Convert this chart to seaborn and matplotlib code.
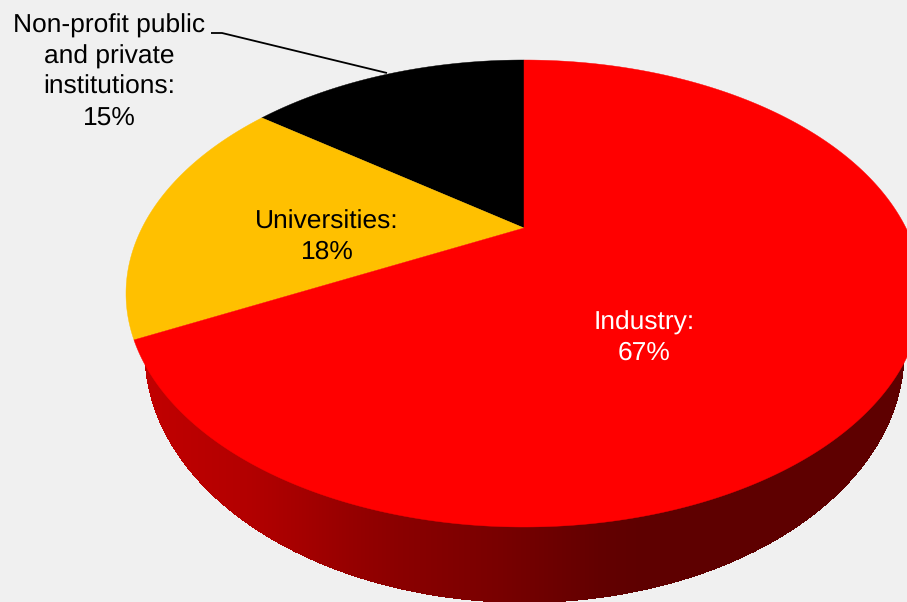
import numpy as np
import matplotlib
matplotlib.use("Agg")
import matplotlib.pyplot as plt
import seaborn as sns

# data
labels = ["Non-profit public\nand private\ninstitutions:", "Universities:", "Industry:"]
shown_pct = [15, 18, 67]
shares = [14.8, 17.7, 67.5]  # slice sizes as measured on the picture
colors = ["#000000", "#FFC000", "#FF0000"]
text_colors = ["black", "black", "white"]
text_pos = [(109, 72), (327, 237), (644, 338)]

# pie geometry in pixels (top face is a circle seen in perspective)
CX, CY, RX, RY = 524, 293.5, 398, 233.5
APEX_Y = 228
BOT_CY, BOT_RX, BOT_RY = 353, 380, 250

# red level of the rim, left to right
rim_x = [130, 250, 300, 350, 400, 500, 600, 640, 910]
rim_r = [195, 178, 165, 150, 138, 120, 98, 94, 94]

sns.set_theme(style="white", rc={"figure.facecolor": "#F0F0F0", "axes.facecolor": "#F0F0F0"})
plt.rcParams["font.family"] = ["Liberation Sans", "DejaVu Sans"]
plt.rcParams["text.hinting"] = "none"


def project(theta):
    # theta measured from the top, going counter clockwise
    a = (CY - APEX_Y) / RY
    x = -np.sin(theta)
    y = np.cos(theta)
    d = 1 + a * y
    px = CX + RX * x * np.sqrt(1 - a ** 2) / d
    py = CY - RY * (y + a) / d
    return px, py


fig = plt.figure(figsize=(9.07, 6.02), dpi=100)
ax = fig.add_axes([0, 0, 1, 1])
ax.set_xlim(0, 907)
ax.set_ylim(602, 0)
ax.axis("off")

# rim, one thin column at a time so the shading stays smooth
columns = np.arange(CX - BOT_RX + 1, 908)
top_edge = CY + RY * np.sqrt(1 - ((columns - CX) / RX) ** 2)
bot_edge = BOT_CY + BOT_RY * np.sqrt(np.clip(1 - ((columns - CX) / BOT_RX) ** 2, 0, 1))
reds = np.interp(columns, rim_x, rim_r)
for i, col in enumerate(columns):
    if bot_edge[i] > top_edge[i]:
        ax.fill_between([col, col + 1.4], top_edge[i] - 3, bot_edge[i], color=(reds[i] / 255, 0, 0), lw=0)

# top face
edges = np.cumsum([0] + shares) / 100 * 2 * np.pi
for start, stop, color in zip(edges[:-1], edges[1:], colors):
    t = np.linspace(start, stop, 400)
    px, py = project(t)
    ax.fill(np.r_[CX, px], np.r_[APEX_Y, py], color=color, lw=0.3, zorder=3)

# labels
for lab, pct, col, pos in zip(labels, shown_pct, text_colors, text_pos):
    ax.text(pos[0], pos[1], f"{lab}\n{pct}%", color=col, ha="center", va="center",
            fontsize=19, linespacing=1.33, zorder=5)

# leader line of the small slice
ax.plot([211, 222, 387], [33, 33, 73], color="black", lw=1.3, zorder=4, solid_capstyle="butt")

fig.savefig("out.png", dpi=100, facecolor=fig.get_facecolor())
